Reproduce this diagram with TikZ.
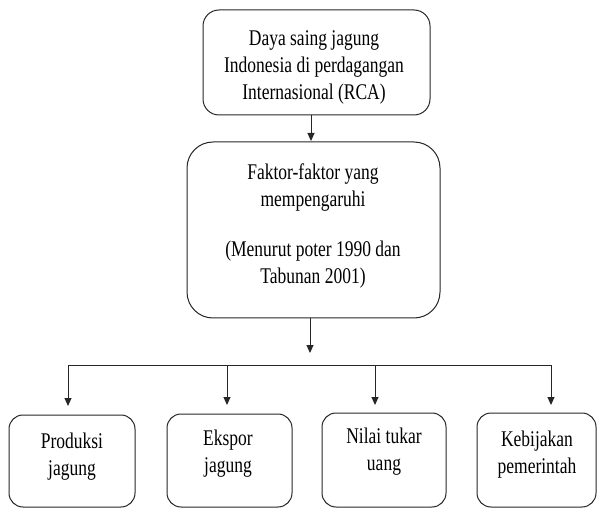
\documentclass[tikz,border=0pt]{standalone}
\usepackage{fontspec}
\setmainfont{Liberation Serif}
\usetikzlibrary{arrows.meta}
\newcommand{\stxt}[1]{\scalebox{1}[1.28]{\begin{tabular}{@{}c@{}}#1\end{tabular}}}
\begin{document}
\begin{tikzpicture}[x=1pt,y=-1pt,
  box/.style={draw=black!85,line width=1pt,rounded corners=#1,inner sep=0pt},
  box/.default=14pt,
  txt/.style={font=\fontsize{17.5}{21}\selectfont,inner sep=0pt,text=black},
  arr/.style={-{Triangle[length=8pt,width=7pt]},line width=1pt,draw=black!85}]
\useasboundingbox (0,0) rectangle (598,508);
\clip (0,0) rectangle (598,508);
% top box
\node[box=16pt,minimum width=227pt,minimum height=105pt] (top) at (316.5,62.5) {};
\node[txt] (toptxt) at (314,67) {\stxt{Daya saing jagung\\Indonesia di perdagangan\\Internasional (RCA)}};
% middle box
\node[box=26pt,minimum width=253pt,minimum height=176pt] (mid) at (313.5,230) {};
\node[txt] (midtxt1) at (313,187.5) {\stxt{Faktor-faktor yang\\mempengaruhi}};
\node[txt] (midtxt2) at (313,264.5) {\stxt{(Menurut poter 1990 dan\\Tabunan 2001)}};
% arrow top -> mid
\coordinate (a1) at (311,115);
\draw[arr] (a1) -- (311,141) coordinate (a1e);
% arrow from mid down
\coordinate (m1) at (310,318);
\coordinate (m2) at (310,353);
\draw[arr] (m1) -- (m2);
% horizontal line
\coordinate (hl) at (68,365);
\coordinate (hr) at (551,365);
\draw[line width=1pt,draw=black!85] (hl) -- (hr);
% bottom boxes
\node[box,minimum width=126pt,minimum height=92pt] (b1) at (72,461) {};
\node[box,minimum width=125pt,minimum height=93pt] (b2) at (229.5,460.5) {};
\node[box,minimum width=124pt,minimum height=94pt] (b3) at (384,460) {};
\node[box,minimum width=119pt,minimum height=94pt] (b4) at (536.5,460) {};
\node[txt] (t1) at (72,456.5) {\stxt{Produksi\\jagung}};
\node[txt] (t2) at (228,453.5) {\stxt{Ekspor\\jagung}};
\node[txt] (t3) at (384,452) {\stxt{Nilai tukar\\uang}};
\node[txt] (t4) at (537,455) {\stxt{Kebijakan\\pemerintah}};
% branch arrows
\coordinate (c1) at (68,365);
\coordinate (c2) at (227,365);
\coordinate (c3) at (375,365);
\coordinate (c4) at (551,365);
\draw[arr] (c1) -- (68,406);
\draw[arr] (c2) -- (227,405);
\draw[arr] (c3) -- (375,405);
\draw[arr] (c4) -- (551,405);
\end{tikzpicture}
\end{document}
